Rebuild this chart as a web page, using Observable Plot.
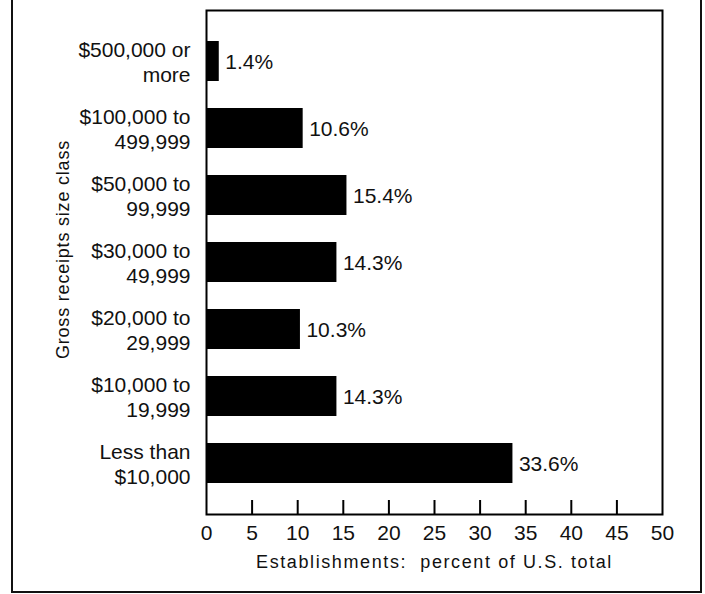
<!DOCTYPE html>
<html><head><meta charset="utf-8">
<script src="https://cdn.jsdelivr.net/npm/d3@7"></script>
<script src="https://cdn.jsdelivr.net/npm/@observablehq/plot@0.6"></script>
<style>
body{margin:0;background:#fff;}
#wrap{position:relative;width:705px;height:594px;overflow:hidden;}
#border{position:absolute;left:11px;top:-4px;width:691px;height:597px;border:2px solid #111;border-top:none;box-sizing:border-box;pointer-events:none;z-index:2;}
</style></head>
<body><div id="wrap"><div id="border"></div></div>
<script>
const classes = [
  "$500,000 or\nmore",
  "$100,000 to\n499,999",
  "$50,000 to\n99,999",
  "$30,000 to\n49,999",
  "$20,000 to\n29,999",
  "$10,000 to\n19,999",
  "Less than\n$10,000"
];
const percents = [1.4, 10.6, 15.4, 14.3, 10.3, 14.3, 33.6];
const valueLabels = ["1.4%", "10.6%", "15.4%", "14.3%", "10.3%", "14.3%", "33.6%"];
const xTicks = [0, 5, 10, 15, 20, 25, 30, 35, 40, 45, 50];
const innerTicks = [5, 10, 15, 20, 25, 30, 35, 40, 45];
const xTitle = "Establishments:\u00a0\u00a0percent of U.S. total";
const yTitle = "Gross receipts size class";

const data = classes.map((c, i) => ({cls: c, pct: percents[i], lbl: valueLabels[i]}));

const chart = Plot.plot({
  width: 705,
  height: 594,
  marginLeft: 206,
  marginRight: 43,
  marginTop: 10,
  marginBottom: 80,
  style: {fontFamily: "'Liberation Sans', Arial, sans-serif", fontSize: "21px", color: "#111", background: "white"},
  x: {domain: [0, 50]},
  y: {domain: classes, paddingInner: 0.41, paddingOuter: 0.42},
  marks: [
    Plot.barX(data, {x: "pct", y: "cls", fill: "#000"}),
    Plot.text(data, {x: "pct", y: "cls", text: "lbl", textAnchor: "start", dx: 6, dy: 1, fontSize: 21, fill: "#111"}),
    Plot.frame({stroke: "#000", strokeWidth: 2}),
    Plot.ruleX(innerTicks, {x: d => d, insetTop: 490, stroke: "#000", strokeWidth: 2}),
    Plot.axisX(xTicks, {tickSize: 0, tickPadding: 11, fontSize: 21, label: null}),
    Plot.axisY({tickSize: 0, tickPadding: 16, fontSize: 21, lineHeight: 1.2, label: null}),
    Plot.text([xTitle], {frameAnchor: "bottom", dy: 53, fontSize: 18, fill: "#111"}),
    Plot.text([yTitle], {frameAnchor: "left", textAnchor: "middle", dx: -143, dy: -13, rotate: -90, fontSize: 18, fill: "#111"})
  ]
});
d3.select(chart).selectAll("text")
  .filter(function () { return this.textContent === xTitle; })
  .style("letter-spacing", "1.6px");
d3.select(chart).selectAll("text")
  .filter(function () { return this.textContent === yTitle; })
  .style("letter-spacing", "0.8px");
document.getElementById("wrap").prepend(chart);
</script>
</body></html>
